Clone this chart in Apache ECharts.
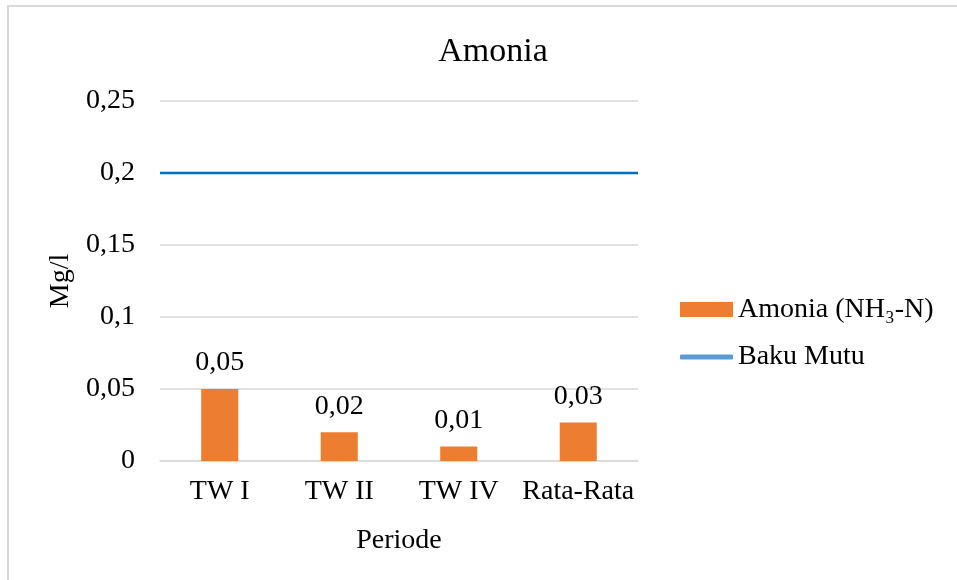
<!DOCTYPE html>
<html>
<head>
<meta charset="utf-8">
<script src="https://cdn.jsdelivr.net/npm/echarts@6/dist/echarts.min.js"></script>
<style>
  html, body { margin: 0; padding: 0; background: #fff; }
  #chart { width: 957px; height: 580px; }
</style>
</head>
<body>
<div id="chart"></div>
<script>
// Ammonia measurements per period (mg/l)
const categories = ['TW I', 'TW II', 'TW IV', 'Rata-Rata'];
const amoniaValues = [0.05, 0.02, 0.01, 0.0267];
// Quality standard threshold
const bakuMutuValues = [0.2, 0.2, 0.2, 0.2];
const yTicks = { min: 0, max: 0.25, interval: 0.05 };

const FONT = '"Liberation Serif", "Times New Roman", serif';
const fmt = v => String(v).replace('.', ',');
const legendText = { fontFamily: FONT, fontSize: 28, color: '#000', lineHeight: 32 };

const chart = echarts.init(document.getElementById('chart'));
chart.setOption({
  animation: false,
  backgroundColor: '#fff',
  textStyle: { fontFamily: FONT, color: '#000' },
  graphic: [{
    type: 'rect',
    silent: true,
    shape: { x: 8, y: 6, width: 2000, height: 2000 },
    style: { fill: 'none', stroke: '#d9d9d9', lineWidth: 2 }
  }],
  title: {
    text: 'Amonia',
    left: 488,
    top: 30,
    textAlign: 'center',
    textStyle: { fontFamily: FONT, fontSize: 34, fontWeight: 'normal', color: '#000' }
  },
  legend: [{
    orient: 'vertical',
    left: 675,
    top: 288.5,
    itemWidth: 53,
    itemHeight: 15,
    textStyle: legendText,
    data: [{ name: 'Amonia (NH₃-N)', icon: 'rect' }]
  }, {
    orient: 'vertical',
    left: 675,
    top: 336,
    itemWidth: 53,
    itemHeight: 5,
    textStyle: legendText,
    data: [{ name: 'Baku Mutu', icon: 'roundRect', itemStyle: { color: '#5B9BD5' } }]
  }],
  grid: { left: 160, right: 319, top: 101, bottom: 119 },
  xAxis: [{
    type: 'category',
    data: categories,
    name: 'Periode',
    nameLocation: 'middle',
    nameGap: 66,
    nameTextStyle: { fontFamily: FONT, fontSize: 28, color: '#000' },
    axisLine: { lineStyle: { color: '#d9d9d9', width: 1.5 } },
    axisTick: { show: false },
    axisLabel: { fontFamily: FONT, fontSize: 28, color: '#000', margin: 17, interval: 0 }
  }, {
    type: 'category',
    data: categories,
    boundaryGap: false,
    show: false
  }],
  yAxis: {
    type: 'value',
    min: yTicks.min,
    max: yTicks.max,
    interval: yTicks.interval,
    name: 'Mg/l',
    nameLocation: 'middle',
    nameGap: 85,
    nameTextStyle: { fontFamily: FONT, fontSize: 28, color: '#000' },
    axisLine: { show: false },
    axisTick: { show: false },
    splitLine: { lineStyle: { color: '#d9d9d9', width: 1.5 } },
    axisLabel: { fontFamily: FONT, fontSize: 28, color: '#000', margin: 25, formatter: v => fmt(v) }
  },
  series: [{
    name: 'Amonia (NH₃-N)',
    type: 'bar',
    data: amoniaValues,
    barWidth: '31%',
    itemStyle: { color: '#ED7D31' },
    label: {
      show: true,
      position: 'top',
      distance: 12,
      fontFamily: FONT,
      fontSize: 28,
      color: '#000',
      formatter: p => p.value.toFixed(2).replace('.', ',')
    }
  }, {
    name: 'Baku Mutu',
    type: 'line',
    xAxisIndex: 1,
    data: bakuMutuValues,
    symbol: 'none',
    lineStyle: { color: '#0070C0', width: 2.5 },
    itemStyle: { color: '#0070C0' }
  }]
});
</script>
</body>
</html>
